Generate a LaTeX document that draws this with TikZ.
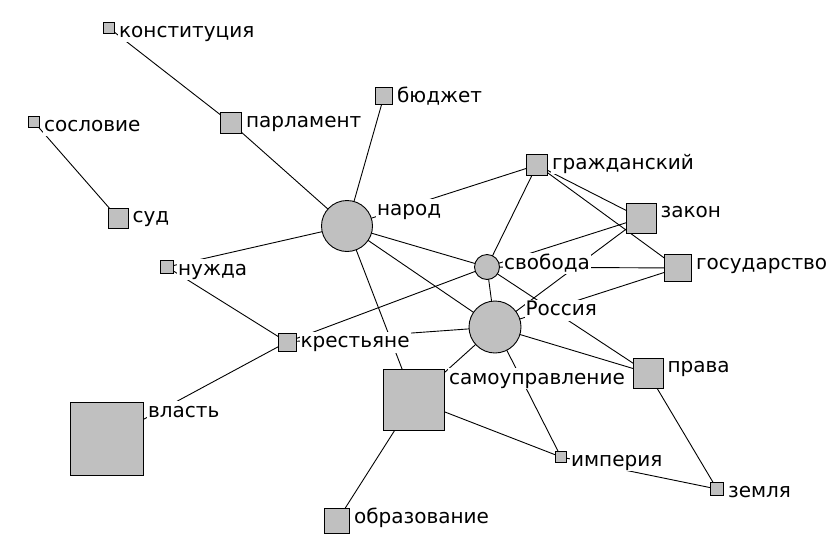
\documentclass[tikz,border=0pt]{standalone}
\usepackage{fontspec}
\setmainfont{DejaVu Sans}
\usetikzlibrary{calc,backgrounds}
\definecolor{nodegray}{RGB}{192,192,192}
\begin{document}
\begin{tikzpicture}[x=1pt,y=-1pt,
  sq/.style={rectangle,draw=black,fill=nodegray,line width=0.9pt,inner sep=0pt,minimum size=#1},
  cir/.style={circle,draw=black,fill=nodegray,line width=0.9pt,inner sep=0pt,minimum size=#1},
  lab/.style={anchor=base west,fill=white,inner sep=1pt,font=\fontsize{20}{24}\selectfont,text height=15pt,text depth=4pt},
  conn/.style={draw=black,line width=0.9pt}]
\useasboundingbox (0,0) rectangle (835,547);
% nodes
\node[sq=11pt]  (konst) at (109,28)  {};
\node[sq=11pt]  (sosl)  at (34,122)  {};
\node[sq=21pt]  (parl)  at (231,123) {};
\node[sq=17pt]  (budg)  at (384,96)  {};
\node[sq=20pt]  (sud)   at (118,218) {};
\node[cir=51pt] (narod) at (347,226) {};
\node[sq=13pt]  (nuzh)  at (167,267) {};
\node[sq=21pt]  (grazh) at (537,165) {};
\node[sq=30pt]  (zakon) at (641,218) {};
\node[sq=27pt]  (gos)   at (678,268) {};
\node[cir=25pt] (svob)  at (487,267) {};
\node[cir=52pt] (ross)  at (495,327) {};
\node[sq=18pt]  (krest) at (287,342) {};
\node[sq=61pt]  (samo)  at (414,400) {};
\node[sq=73pt]  (vlast) at (107,439) {};
\node[sq=25pt]  (obraz) at (337,521) {};
\node[sq=30pt]  (prava) at (648,373) {};
\node[sq=11pt]  (imper) at (561,457) {};
\node[sq=13pt]  (zemlya) at (717,489) {};
% labels
\node[lab] (lkonst) at ($(konst.east |- konst.north)+(3,15)$) {конституция};
\node[lab] (lsosl)  at ($(sosl.east |- sosl.north)+(3,15)$) {сословие};
\node[lab] (lparl)  at ($(parl.east |- parl.north)+(3,15)$) {парламент};
\node[lab] (lbudg)  at ($(budg.east |- budg.north)+(3,15)$) {бюджет};
\node[lab] (lsud)   at ($(sud.east |- sud.north)+(3,15)$) {суд};
\node[lab] (lnarod) at ($(narod.east |- narod.north)+(3,15)$) {народ};
\node[lab] (lnuzh)  at ($(nuzh.east |- nuzh.north)+(3,15)$) {нужда};
\node[lab] (lgrazh) at ($(grazh.east |- grazh.north)+(3,15)$) {гражданский};
\node[lab] (lzakon) at ($(zakon.east |- zakon.north)+(3,15)$) {закон};
\node[lab] (lgos)   at ($(gos.east |- gos.north)+(3,15)$) {государство};
\node[lab] (lsvob)  at ($(svob.east |- svob.north)+(3,15)$) {свобода};
\node[lab] (lross)  at ($(ross.east |- ross.north)+(3,15)$) {Россия};
\node[lab] (lkrest) at ($(krest.east |- krest.north)+(3,15)$) {крестьяне};
\node[lab] (lsamo)  at ($(samo.east |- samo.north)+(3,15)$) {самоуправление};
\node[lab] (lvlast) at ($(vlast.east |- vlast.north)+(3,15)$) {власть};
\node[lab] (lobraz) at ($(obraz.east |- obraz.north)+(3,15)$) {образование};
\node[lab] (lprava) at ($(prava.east |- prava.north)+(3,15)$) {права};
\node[lab] (limper) at ($(imper.east |- imper.north)+(3,15)$) {империя};
\node[lab] (lzemlya) at ($(zemlya.east |- zemlya.north)+(3,15)$) {земля};
% edges
\begin{scope}[on background layer]
\fill[white] (0,0) rectangle (835,547);
\draw[conn] (konst.center) -- (parl.center);
\draw[conn] (sosl.center) -- (sud.center);
\draw[conn] (parl.center) -- (narod.center);
\draw[conn] (budg.center) -- (narod.center);
\draw[conn] (narod.center) -- (nuzh.center);
\draw[conn] (narod.center) -- (grazh.center);
\draw[conn] (narod.center) -- (svob.center);
\draw[conn] (narod.center) -- (ross.center);
\draw[conn] (narod.center) -- (samo.center);
\draw[conn] (nuzh.center) -- (krest.center);
\draw[conn] (krest.center) -- (vlast.center);
\draw[conn] (krest.center) -- (svob.center);
\draw[conn] (krest.center) -- (ross.center);
\draw[conn] (svob.center) -- (grazh.center);
\draw[conn] (svob.center) -- (ross.center);
\draw[conn] (svob.center) -- (zakon.center);
\draw[conn] (svob.center) -- (gos.center);
\draw[conn] (svob.center) -- (prava.center);
\draw[conn] (grazh.center) -- (zakon.center);
\draw[conn] (grazh.center) -- (gos.center);
\draw[conn] (zakon.center) -- (ross.center);
\draw[conn] (gos.center) -- (ross.center);
\draw[conn] (ross.center) -- (samo.center);
\draw[conn] (ross.center) -- (imper.center);
\draw[conn] (ross.center) -- (prava.center);
\draw[conn] (samo.center) -- (obraz.center);
\draw[conn] (samo.center) -- (imper.center);
\draw[conn] (imper.center) -- (zemlya.center);
\draw[conn] (prava.center) -- (zemlya.center);
\end{scope}
\end{tikzpicture}
\end{document}
